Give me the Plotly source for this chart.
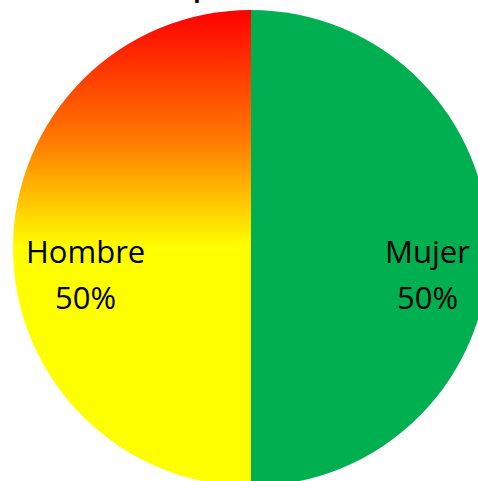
import json
import plotly.graph_objects as go

# ── Data ──────────────────────────────────────────────────────────────────────
labels = ["Hombre", "Mujer"]
values = [50, 50]
colors = ["#FFFF00", "#00B050"]   # Hombre gets a gradient overlay below

# red → orange → yellow, top to bottom of the Hombre slice
grad_stops  = [0.0, 0.27, 0.5, 1.0]
grad_colors = ["#FF0000", "#FF7800", "#FFFF00", "#FFFF00"]

title_text = "Distribución por sexo"

# label anchor points in paper coords (left / right half)
label_x = {"Hombre": 0.153, "Mujer": 0.870}
LINE1_Y, LINE2_Y = 0.4937, 0.397

_FONT = dict(family="'Open Sans', 'Noto Sans', sans-serif", size=31, color="#000000")

# start at 6 o'clock, go clockwise → first slice (Hombre) fills the left half
fig = go.Figure(go.Pie(
    labels=labels,
    values=values,
    sort=False,
    direction="clockwise",
    rotation=180,
    marker=dict(colors=colors, line=dict(width=0)),
    textinfo="none",
    hole=0,
))

total = sum(values)
notes = []
for lab, val in zip(labels, values):
    pct = f"{val / total * 100:.0f}%"
    for txt, yy in ((lab, LINE1_Y), (pct, LINE2_Y)):
        notes.append(dict(
            text=txt, x=label_x[lab], y=yy, xref="paper", yref="paper",
            xanchor="center", yanchor="middle", showarrow=False, font=_FONT,
        ))

# title sits mostly above the page edge, as in the reference
notes.append(dict(
    text=f"<b>{title_text}</b>",
    x=0.5, y=1.0084, xref="paper", yref="paper",
    xanchor="center", yanchor="bottom", xshift=-84,
    showarrow=False,
    font=dict(family="'Open Sans', sans-serif", size=24, color="#000000"),
))

fig.update_layout(
    width=500,
    height=500,
    margin=dict(l=13, r=11, t=10, b=14),
    paper_bgcolor="white",
    plot_bgcolor="white",
    showlegend=False,
    annotations=notes,
)

# page: no body margin / scrollbars; paint the gradient into the Hombre slice
post = """
document.body.style.margin = '0';
document.body.style.overflow = 'hidden';
var gd = document.getElementById('{plot_id}');
var STOPS = %s, COLS = %s, IDX = %d;
function paint() {
  var svg = gd.querySelector('svg.main-svg');
  var defs = svg.querySelector('defs');
  if (!document.getElementById('hombre-grad')) {
    var ns = 'http://www.w3.org/2000/svg';
    var g = document.createElementNS(ns, 'linearGradient');
    g.setAttribute('id', 'hombre-grad');
    g.setAttribute('x1', '0'); g.setAttribute('y1', '0');
    g.setAttribute('x2', '0'); g.setAttribute('y2', '1');
    for (var i = 0; i < STOPS.length; i++) {
      var s = document.createElementNS(ns, 'stop');
      s.setAttribute('offset', STOPS[i]);
      s.setAttribute('stop-color', COLS[i]);
      g.appendChild(s);
    }
    defs.appendChild(g);
  }
  var paths = gd.querySelectorAll('g.slice path.surface');
  if (paths.length > IDX) paths[IDX].style.fill = 'url(#hombre-grad)';
}
paint();
gd.on('plotly_afterplot', paint);
""" % (json.dumps(grad_stops), json.dumps(grad_colors), labels.index("Hombre"))

fig.write_html("out.html", post_script=post, config={"displayModeBar": False})
